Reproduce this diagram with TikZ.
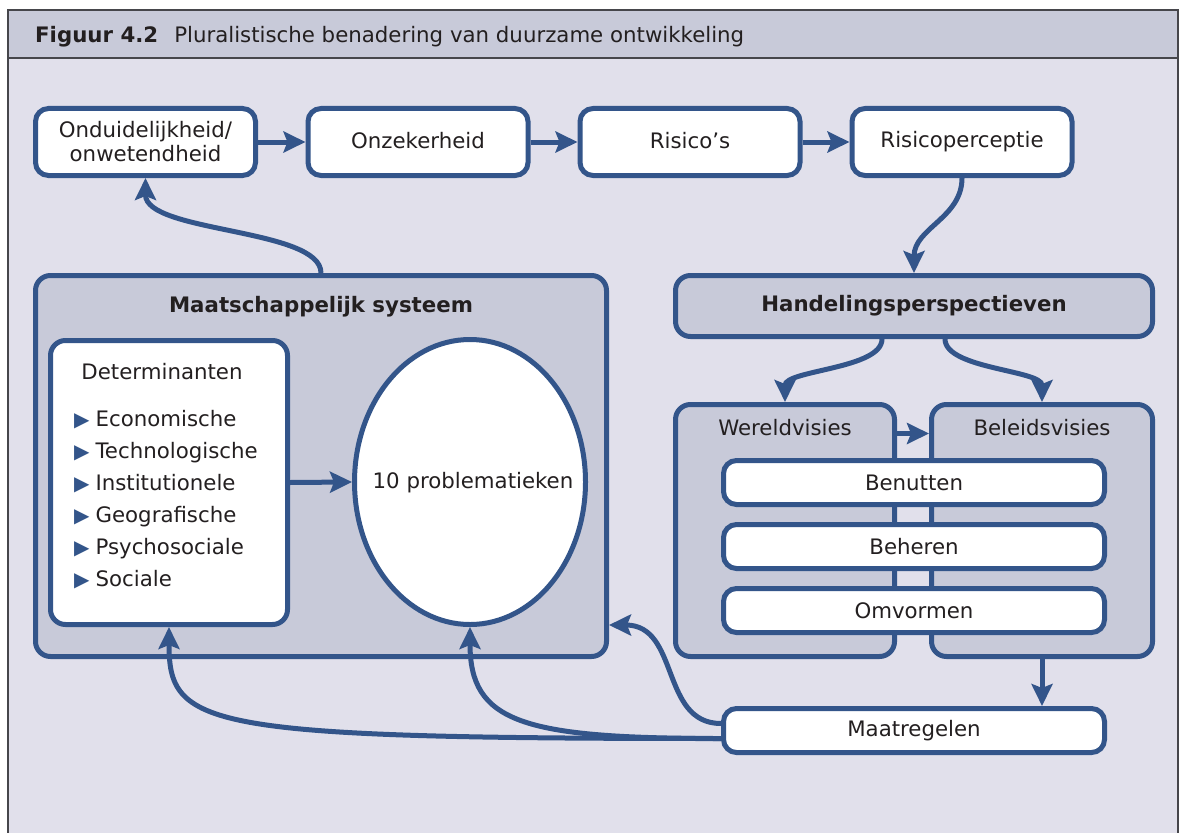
\documentclass[tikz,border=0pt]{standalone}
\usepackage{fontspec}
\setmainfont{DejaVu Sans}
\usepackage{xcolor}
\usepackage{tikz}
\usetikzlibrary{shapes.geometric, arrows.meta, positioning, calc}
\definecolor{linkblue}{RGB}{51, 85, 138}
\definecolor{panelgrey}{RGB}{200, 202, 217}
\definecolor{pagebg}{RGB}{225, 224, 235}
\definecolor{framegrey}{RGB}{70, 70, 75}
\definecolor{inktext}{RGB}{35, 31, 32}
\newcommand{\boxfont}{\fontsize{21.3}{24}\selectfont}
\tikzset{
    box/.style = {rectangle, draw=linkblue, fill=white, line width=5pt, rounded corners=13pt, text=inktext, font=\boxfont, align=center, minimum width=220pt, minimum height=67pt},
    panel/.style = {rectangle, draw=linkblue, fill=panelgrey, line width=5pt, rounded corners=15pt, inner sep=0pt},
    barbox/.style = {rectangle, draw=linkblue, fill=white, line width=5pt, rounded corners=13pt, text=inktext, font=\boxfont, minimum width=381pt, minimum height=44pt},
    label/.style = {text=inktext, font=\boxfont, inner sep=0pt},
    arrow/.style = {draw=linkblue, line width=5pt, -{Stealth[length=22pt, width=21pt, inset=4pt]}}
}

\begin{document}
\begin{tikzpicture}[x=1pt, y=-1pt]
\useasboundingbox (0,0) rectangle (1182,832);
% frame and header
\fill[pagebg] (8,58) rectangle (1178,840);
\fill[panelgrey] (8,10) rectangle (1178,58);
\draw[framegrey, line width=2pt] (8,840) -- (8,10) -- (1178,10) -- (1178,840);
\draw[framegrey, line width=2.5pt] (8,58) -- (1178,58);
\node (figtitle) [label, anchor=base west] at (35,43) {\textbf{Figuur 4.2}\hspace{16pt}Pluralistische benadering van duurzame ontwikkeling};

% panels
\node (maat) [panel, minimum width=571pt, minimum height=381pt] at (321,466) {};
\node (handel) [panel, minimum width=477pt, minimum height=61pt, text=inktext, font=\boxfont\bfseries] at (914,306) {Handelingsperspectieven};
\node (wereld) [panel, minimum width=219pt, minimum height=252pt] at (785,530.5) {};
\node (beleid) [panel, minimum width=221pt, minimum height=252pt] at (1042,530.5) {};
\node (maattitle) [label, font=\boxfont\bfseries] at (321,307) {Maatschappelijk systeem};
\node (wvtext) [label] at (785,428) {Wereldvisies};
\node (bvtext) [label] at (1042,428) {Beleidsvisies};

% top row
\node (ond) [box] at (145.5,142) {Onduidelijkheid/\\onwetendheid};
\node (onz) [box] at (418,142) {\raisebox{4pt}{Onzekerheid}};
\node (risico) [box] at (690,142) {\raisebox{4pt}{Risico’s}};
\node (rp) [box] at (962,142) {Risicoperceptie};

% inside the system
\node (det) [box, minimum width=237pt, minimum height=284pt, rounded corners=15pt] at (169,482.5) {};
\node (dethead) [label] at (162,372) {Determinanten};
\foreach \name [count=\i] in {Economische, Technologische, Institutionele, Geografische, Psychosociale, Sociale}
    \node (item\i) [label, anchor=base west] at (74,{426+32*(\i-1)}) {{\color{linkblue}\fontsize{20}{20}\selectfont▶}\hspace{6pt}\name};
\node (ell) [ellipse, draw=linkblue, fill=white, line width=5pt, inner sep=0pt, minimum width=231pt, minimum height=285pt] at (470,482) {};
\node (elltext) [label] at (473,483) {10 problematieken};

% strategies
\node (benut) [barbox] at (914,482.5) {Benutten};
\node (beheer) [barbox] at (914,546.5) {Beheren};
\node (omvorm) [barbox] at (914,610.5) {Omvormen};
\node (mr) [barbox] at (914,730.5) {Maatregelen};

% connectors
\draw [arrow] (ond) -- (onz);
\draw [arrow] (onz) -- (risico);
\draw [arrow] (risico) -- (rp);
\draw [arrow] (rp.south) .. controls +(0,40) and +(0,-45) .. (handel.north);
\draw [arrow] ([xshift=-32pt]handel.south) .. controls +(0,30) and +(0,-32) .. (wereld.north);
\draw [arrow] ([xshift=31pt]handel.south) .. controls +(0,30) and +(0,-32) .. (beleid.north);
\draw [arrow] ([yshift=97pt]wereld.east) -- ([yshift=97pt]beleid.west);
\draw [arrow] (det.east) -- (ell.west);
\draw [arrow] (maat.north) .. controls +(0,-45) and +(0,55) .. (ond.south);
\draw [arrow] (beleid.south) -- (beleid.south |- mr.north);
\draw [arrow] ([yshift=7pt]mr.west) .. controls +(-61,0) and +(71,0) .. ([yshift=-159pt]maat.east);
\draw [arrow] ([yshift=-8pt]mr.west) .. controls +(-520,0) and +(0,100) .. (det.south);
\draw [arrow] ([yshift=-8pt]mr.west) .. controls +(-200,0) and +(0,95) .. (ell.south);
\end{tikzpicture}
\end{document}
